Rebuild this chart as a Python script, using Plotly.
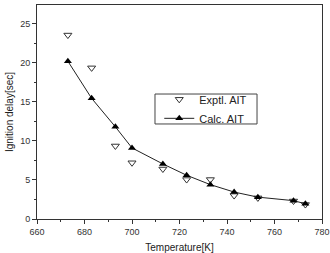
import plotly.graph_objects as go

temps = [673, 683, 693, 700, 713, 723, 733, 743, 753, 768, 773]
expt_ait = [23.55, 19.35, 9.35, 7.2, 6.4, 5.05, 5.05, 3.0, 2.7, 2.3, 1.85]
calc_ait = [20.2, 15.45, 11.8, 9.1, 7.05, 5.6, 4.4, 3.45, 2.8, 2.35, 1.95]

x_ticks = [660, 680, 700, 720, 740, 760, 780]
y_ticks = [0, 5, 10, 15, 20, 25]

fig = go.Figure()
fig.add_trace(go.Scatter(
    x=temps, y=expt_ait, mode="markers", name="Exptl. AIT",
    marker=dict(symbol="triangle-down-open", size=7, color="#333333", line=dict(width=1)),
))
fig.add_trace(go.Scatter(
    x=temps, y=calc_ait, mode="lines+markers", name="Calc. AIT",
    line=dict(color="#222222", width=1),
    marker=dict(symbol="triangle-up", size=7, color="black"),
))

axis_common = dict(
    showgrid=False, zeroline=False, showline=True, linecolor="#333333", linewidth=1,
    mirror=True, ticks="outside", ticklen=4, tickwidth=1, tickcolor="#333333",
    automargin=False,
    tickfont=dict(family="Liberation Sans, Arial, sans-serif", size=9, color="#333333"),
)

fig.update_layout(
    width=330, height=253,
    margin=dict(l=37, r=8, t=5, b=34),
    paper_bgcolor="white", plot_bgcolor="white",
    showlegend=True,
    legend=dict(
        x=0.429, y=0.627, xanchor="left", yanchor="top",
        borderwidth=0, bgcolor="rgba(0,0,0,0)",
        font=dict(family="Liberation Sans, Arial, sans-serif", size=11, color="#222222"),
        itemwidth=30, tracegroupgap=0,
    ),
    shapes=[dict(
        type="rect", xref="paper", yref="paper",
        x0=0.414, x1=0.772, y0=0.444, y1=0.584,
        line=dict(color="#444444", width=1), fillcolor="rgba(0,0,0,0)", layer="above",
    )],
    xaxis=dict(
        range=[660, 780], tickvals=x_ticks, **axis_common,
        minor=dict(ticks="outside", ticklen=2, dtick=10, tickcolor="#333333"),
        title=dict(text="Temperature[K]", standoff=9,
                   font=dict(family="Liberation Sans, Arial, sans-serif", size=10, color="#222222")),
    ),
    yaxis=dict(
        range=[0, 27.4], tickvals=y_ticks, **axis_common,
        minor=dict(ticks="outside", ticklen=2, dtick=2.5, tickcolor="#333333"),
        title=dict(text="Ignition delay[sec]", standoff=4,
                   font=dict(family="Liberation Sans, Arial, sans-serif", size=10, color="#222222")),
    ),
)

fig.write_html("out.html")
